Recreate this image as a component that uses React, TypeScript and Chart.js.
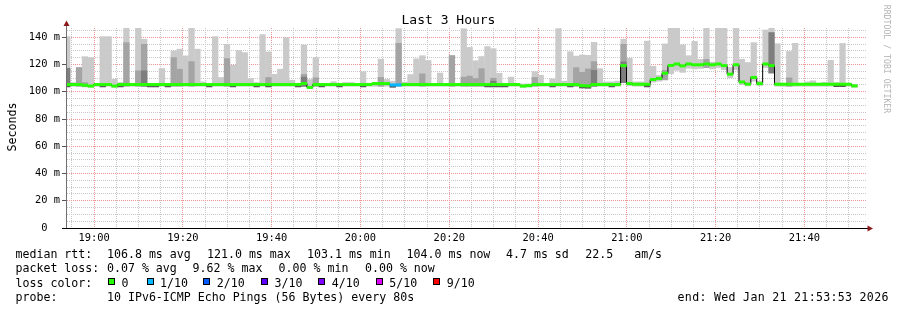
import React, { useEffect, useRef } from "react";
import { Chart, registerables } from "chart.js";

Chart.register(...registerables);

// ---- time axis ----
const RANGE_START = "18:53:53";
const RANGE_END = "21:53:53";
const FIRST_STEP_START = "18:53:16"; // start of first (partially visible) 80 s step
const STEP_SECONDS = 80;
const X_GRID_FIRST = "18:55:00";
const X_GRID_LAST = "21:50:00";
const X_GRID_STEP = 300;
const xTickLabels = ["19:00", "19:20", "19:40", "20:00", "20:20", "20:40", "21:00", "21:20", "21:40"];

// ---- value axis ----
const Y_MAX = 146.8;
const Y_GRID_STEP = 5;
const yTickValues = [0, 20, 40, 60, 80, 100, 120, 140];
const yTickLabels = ["0  ", "20 m", "40 m", "60 m", "80 m", "100 m", "120 m", "140 m"];

const _ = null;

// ---- per-step values (ms), first row = 11 steps, others 10 ----
const maxPing = [
  140.7, 107, 118, 126, 125.3, 106.5, 140.7, 140.7, 109.5, 107, 146.8,
  106.5, 146.8, 138.8, 106, 106, 117.3, 106.5, 130.2, 131.5, 126.6,
  146.8, 131.5, 107.5, 106, 140.7, 110.7, 135.1, 119.7, 130.5, 129,
  110, 107, 142.2, 129.5, 113.1, 116.8, 140, 108.7, 106, 134.5,
  109.2, 125.4, 106, 106, 107.6, 106, 107, 107, 106, 115,
  106.5, 107.2, 124.1, 109.3, 108, 146.6, 107.3, 112.9, 124.4, 126.7,
  123.2, 106, 114, 106, 126.8, 106, 146.5, 132.8, 123, 126.1,
  133.4, 131.8, 113.8, 106, 111, 106, 106, 106, 115, 112.3,
  105.8, 109.7, 146.6, 108, 129.6, 126.4, 127.2, 127, 136.5, 117.2,
  107.5, 107.5, 108, 138.8, 124.8, 107.5, 107.5, 137.4, 118.9, 112.2,
  135.4, 146.8, 146.8, 134.7, 126.7, 137.2, 124, 146.8, 122, 146.8,
  146.8, 118, 146.8, 124.1, 121.7, 136.3, 108, 145.6, 146.8, 135.5,
  106.5, 129.8, 135.8, 106, 107.5, 108.3, 106.5, 107.2, 123.3, 107,
  135.7, 106.5, 105.8,
];

const secondPing = [
  _, _, 118, 107, _, _, _, _, _, _, 136.3,
  _, 115.6, 135.1, _, _, _, _, 125.3, 116.8, _,
  122.4, _, _, _, _, _, 124.6, _, _, _,
  _, _, _, 110.7, _, _, _, _, _, 113,
  _, 110.5, _, _, _, _, _, _, _, _,
  _, _, 110.8, _, _, 135.8, _, _, _, 113.4,
  _, _, _, _, 126.8, _, 111, 111.7, 110, 117.2,
  _, 110.2, _, _, _, _, _, _, 110.7, _,
  _, _, _, _, _, 117.9, 114.5, 117, 122.4, _,
  _, _, _, 135.1, _, _, _, _, _, _,
  116, _, _, _, _, _, _, 124, _, _,
  _, _, _, _, _, _, _, _, _, _,
  _, 110.5, _, _, _, _, _, _, _, _,
  _, _, _,
];

const thirdPing = [
  117.5, _, _, _, _, _, _, _, _, _, _,
  _, _, 115.6, _, _, _, _, _, _, _,
  _, _, _, _, _, _, _, _, _, _,
  _, _, _, _, _, _, _, _, _, 111,
  _, _, _, _, _, _, _, _, _, _,
  _, _, _, _, _, _, _, _, _, _,
  _, _, _, _, _, _, _, _, _, _,
  _, 108, _, _, _, _, _, _, _, _,
  _, _, _, _, _, _, _, _, 116, _,
  _, _, _, 122.2, _, _, _, _, _, _,
  _, _, _, _, _, _, _, _, _, _,
  _, _, _, _, _, _, _, _, 143.7, _,
  _, _, _, _, _, _, _, _, _, _,
  _, _, _,
];

const coreLow = [
  103.3, _, _, _, _, _, 103.3, _, _, 103.3, _,
  _, _, _, 103.3, 103.3, _, 103.3, _, _, _,
  _, _, _, 103.3, _, _, _, 103.3, _, _,
  _, 103.3, _, 103.3, _, _, _, _, 103.3, _,
  _, _, 103.3, _, _, 103.3, _, _, _, 103.3,
  _, _, _, _, 103, _, _, _, _, _,
  _, _, _, _, _, _, _, _, _, _,
  103.3, 103.3, 103.3, 103.3, _, _, _, _, _, _,
  _, 103.3, _, _, 103.3, _, 102.5, 102.3, _, _,
  _, 103.3, _, _, _, _, _, 103.3, _, _,
  _, _, _, _, _, _, _, _, _, _,
  _, _, _, _, _, _, _, _, _, _,
  _, _, _, _, _, _, _, _, _, 103.5,
  103.5, _, _,
];

const minPing = [
  103.8, 103.8, 103.8, 103.4, 103, 103.8, 103.8, 103.8, 103, 103.8, 103.8,
  103.8, 103.8, 103.8, 103.8, 103.8, 103.8, 103.8, 103.8, 103.8, 103.8,
  103.8, 103.8, 103.8, 103.8, 103.8, 103.8, 103.8, 103.8, 103.8, 103.8,
  103.8, 103.8, 103.8, 103.8, 103.8, 103.8, 103.8, 103.8, 103.8, 103.8,
  102.2, 103.8, 103.8, 103.8, 103.8, 103.8, 103.8, 103.8, 103.8, 103.8,
  103.8, 103.8, 103.8, 103.8, 103.8, 103.8, 103.8, 103.8, 103.8, 103.8,
  103.8, 103.8, 103.8, 103.8, 103.8, 103.8, 103.8, 103.8, 103.8, 103.8,
  103.8, 103.8, 103.8, 103.8, 103.8, 103.8, 103, 103.2, 103.8, 103.8,
  103.8, 103.8, 103.8, 103.8, 103.8, 103.8, 103.2, 103, 103.8, 103.8,
  103.8, 103.8, 103.8, 106.5, 104.2, 103.8, 103.8, 103.8, 106.8, 107.5,
  108.5, 113, 115.5, 114, 117, 116.5, 116.8, 117.5, 116.5, 117.5,
  116, 110, 116, 105, 104, 107.5, 104.3, 117.5, 113.5, 103.8,
  103.8, 103.8, 103.8, 103.8, 103.8, 103.8, 103.8, 103.8, 103.8, 103.8,
  103.8, 103.8, 103,
];

const medianRtt = [
  105.3, 105.3, 105.3, 104.8, 104.2, 105.3, 105.3, 105.3, 104.2, 105.3, 105.3,
  105.3, 105.3, 105.3, 105.3, 105.3, 105.3, 105.3, 105.3, 105.3, 105.3,
  105.3, 105.3, 105.3, 105.3, 105.3, 105.3, 105.3, 105.3, 105.3, 105.3,
  105.3, 105.3, 105.3, 105.3, 105.3, 105.3, 105.3, 105.3, 105.3, 106,
  103.2, 105.3, 105.3, 105.3, 105.3, 105.3, 105.3, 105.3, 105.3, 105.3,
  105.3, 106, 106, 106, 105, 105, 105.3, 105.3, 105.3, 105.3,
  105.3, 105.3, 105.3, 105.3, 105.3, 105.3, 105.3, 105.3, 105.3, 105.3,
  105.3, 105.3, 105.3, 105.3, 105.3, 105.3, 104.2, 104.5, 105.3, 105.3,
  105.3, 105.3, 105.3, 105.3, 105.3, 105.3, 104.5, 104.3, 105.3, 105.3,
  105.3, 105.3, 105.3, 119.2, 106, 105.5, 105.5, 105.5, 109, 109.8,
  113.6, 119.3, 120.4, 119, 120.4, 119.8, 119.8, 120.4, 119.8, 120.4,
  119.2, 112.9, 119.8, 107.2, 105.6, 110.5, 106, 120.4, 119.2, 105.5,
  105.5, 105.5, 105.5, 105.5, 105.5, 105.5, 105.5, 105.5, 105.5, 105.5,
  105.5, 105.5, 104.3,
];

const lossTenths = [
  0, 0, 0, 0, 0, 0, 0, 0, 0, 0, 0,
  0, 0, 0, 0, 0, 0, 0, 0, 0, 0,
  0, 0, 0, 0, 0, 0, 0, 0, 0, 0,
  0, 0, 0, 0, 0, 0, 0, 0, 0, 0,
  0, 0, 0, 0, 0, 0, 0, 0, 0, 0,
  0, 0, 0, 0, 1, 1, 0, 0, 0, 0,
  0, 0, 0, 0, 0, 0, 0, 0, 0, 0,
  0, 0, 0, 0, 0, 0, 0, 0, 0, 0,
  0, 0, 0, 0, 0, 0, 0, 0, 0, 0,
  0, 0, 0, 0, 0, 0, 0, 0, 0, 0,
  0, 0, 0, 0, 0, 0, 0, 0, 0, 0,
  0, 0, 0, 0, 0, 0, 0, 0, 0, 0,
  0, 0, 0, 0, 0, 0, 0, 0, 0, 0,
  0, 0, 0,
];

const lossColorByTenths: Record<number, string> = {
  0: "#26ff00", 1: "#00b8ff", 2: "#0059ff", 3: "#5e00ff", 4: "#7e00ff", 5: "#dd00ff", 9: "#ff0000",
};
const lossLegend = [
  { label: "0", tenths: 0 }, { label: "1/10", tenths: 1 }, { label: "2/10", tenths: 2 },
  { label: "3/10", tenths: 3 }, { label: "4/10", tenths: 4 }, { label: "5/10", tenths: 5 },
  { label: "9/10", tenths: 9 },
];

const MONO = "'DejaVu Sans Mono', monospace";

const toSec = (t: string) => {
  const [h, m, s] = t.split(":").map(Number);
  return h * 3600 + m * 60 + (s || 0);
};
const hhmm = (v: number) => {
  const h = Math.floor(v / 3600);
  const m = Math.floor((v % 3600) / 60);
  return `${String(h).padStart(2, "0")}:${String(m).padStart(2, "0")}`;
};

const rrdAxes = {
  id: "rrdAxes",
  afterDatasetsDraw(chart: any) {
    const { ctx, chartArea: a } = chart;
    ctx.save();
    ctx.lineWidth = 1;
    ctx.strokeStyle = "#707070";
    ctx.beginPath();
    ctx.moveTo(a.left - 0.5, a.bottom);
    ctx.lineTo(a.left - 0.5, a.top - 3);
    ctx.stroke();
    ctx.strokeStyle = "#000";
    ctx.beginPath();
    ctx.moveTo(a.left - 5, a.bottom + 0.5);
    ctx.lineTo(a.right + 2, a.bottom + 0.5);
    ctx.stroke();
    ctx.fillStyle = "#8b1a1a";
    ctx.beginPath();
    ctx.moveTo(a.left - 0.5, a.top - 7.5);
    ctx.lineTo(a.left - 3.5, a.top - 2);
    ctx.lineTo(a.left + 2.5, a.top - 2);
    ctx.closePath();
    ctx.fill();
    ctx.beginPath();
    ctx.moveTo(a.right + 7, a.bottom + 0.5);
    ctx.lineTo(a.right + 1.5, a.bottom - 2.5);
    ctx.lineTo(a.right + 1.5, a.bottom + 3.5);
    ctx.closePath();
    ctx.fill();
    ctx.restore();
  },
};

type Txt = { x: number; text: string; ls?: number };
const legendRows: { top: number; items: Txt[] }[] = [
  {
    top: 247,
    items: [
      { x: 15.5, text: "median rtt:" }, { x: 107, text: "106.8 ms avg" }, { x: 207, text: "121.0 ms max" },
      { x: 307, text: "103.1 ms min" }, { x: 406.6, text: "104.0 ms now" }, { x: 506, text: "4.7 ms sd" },
      { x: 585.3, text: "22.5   am/s" },
    ],
  },
  {
    top: 261.3,
    items: [
      { x: 15.5, text: "packet loss:" }, { x: 107, text: "0.07 % avg" }, { x: 192.6, text: "9.62 % max" },
      { x: 278.6, text: "0.00 % min" }, { x: 365, text: "0.00 % now" },
    ],
  },
  { top: 275.7, items: [{ x: 15.5, text: "loss color:" }] },
  {
    top: 290,
    items: [
      { x: 15.5, text: "probe:" }, { x: 107, text: "10 IPv6-ICMP Echo Pings (56 Bytes) every 80s" },
      { x: 677.6, text: "end: Wed Jan 21 21:53:53 2026", ls: 0.3 },
    ],
  },
];
const lossBoxX = [108, 146.5, 203.3, 261, 318.3, 375.7, 433.3];

export default function App() {
  const ref = useRef<HTMLCanvasElement | null>(null);

  useEffect(() => {
    if (!ref.current) return;
    const s0 = toSec(FIRST_STEP_START);
    const starts = medianRtt.map((_v, i) => s0 + i * STEP_SECONDS);
    const centers = starts.map((s) => s + STEP_SECONDS / 2);
    const band = (lo: (number | null)[], hi: (number | null)[]) =>
      centers
        .map((x, i) => (hi[i] == null || lo[i] == null ? null : { x, y: [lo[i] as number, hi[i] as number] }))
        .filter((p) => p !== null);

    const xGrid: number[] = [];
    for (let v = toSec(X_GRID_FIRST); v <= toSec(X_GRID_LAST); v += X_GRID_STEP) xGrid.push(v);
    const xLabelSet = new Set(xTickLabels.map((l) => toSec(l)));
    const yGrid: number[] = [];
    for (let v = 0; v < Y_MAX; v += Y_GRID_STEP) yGrid.push(v);

    const barCommon = { borderWidth: 0, barPercentage: 1.06, categoryPercentage: 1, grouped: false };
    const last = starts.length - 1;

    const chart = new Chart(ref.current, {
      type: "bar",
      data: {
        datasets: [
          {
            type: "bar",
            label: "median",
            data: centers.map((x, i) => ({ x, y: [medianRtt[i] - 1.1, medianRtt[i] + 1.1] })),
            backgroundColor: medianRtt.map((_v, i) => lossColorByTenths[lossTenths[i]]),
            order: 0,
            ...barCommon,
          } as any,
          {
            type: "line",
            label: "median line",
            data: [...starts.map((x, i) => ({ x, y: medianRtt[i] })), { x: starts[last] + STEP_SECONDS, y: medianRtt[last] }],
            borderColor: "#000",
            borderWidth: 1,
            pointRadius: 0,
            stepped: true,
            fill: false,
            order: 1,
          } as any,
          { type: "bar", label: "core", data: band(coreLow, medianRtt), backgroundColor: "#585858", order: 2, ...barCommon } as any,
          { type: "bar", label: "p3", data: band(minPing, thirdPing), backgroundColor: "#7e7e7e", order: 3, ...barCommon } as any,
          { type: "bar", label: "p2", data: band(minPing, secondPing), backgroundColor: "#a4a4a4", order: 4, ...barCommon } as any,
          { type: "bar", label: "p1", data: band(minPing, maxPing), backgroundColor: "#cacaca", order: 5, ...barCommon } as any,
        ],
      },
      options: {
        animation: false,
        responsive: false,
        devicePixelRatio: 1,
        events: [],
        layout: { padding: { top: 28, right: 31, bottom: 0, left: 0 } },
        plugins: { legend: { display: false }, title: { display: false }, tooltip: { enabled: false } },
        scales: {
          x: {
            type: "linear",
            min: toSec(RANGE_START),
            max: toSec(RANGE_END),
            offset: false,
            afterBuildTicks: (s: any) => {
              s.ticks = xGrid.map((v) => ({ value: v }));
            },
            afterFit: (s: any) => {
              s.height = 82;
            },
            grid: {
              offset: false,
              drawTicks: false,
              lineWidth: 1,
              color: (c: any) => (xLabelSet.has(c.tick?.value) ? "rgb(236,150,150)" : "rgb(200,200,200)"),
            },
            border: { display: false, dash: [1, 1] },
            ticks: {
              autoSkip: false,
              maxRotation: 0,
              padding: 4,
              color: "#000",
              font: { family: MONO, size: 10.4 },
              callback: (v: any) => (xLabelSet.has(Number(v)) ? hhmm(Number(v)) : ""),
            },
          },
          y: {
            min: 0,
            max: Y_MAX,
            afterBuildTicks: (s: any) => {
              s.ticks = yGrid.map((v) => ({ value: v }));
            },
            afterFit: (s: any) => {
              s.width = 67;
            },
            grid: {
              drawTicks: true,
              tickLength: 5,
              lineWidth: 1,
              color: (c: any) => (yTickValues.includes(c.tick?.value) ? "rgb(236,150,150)" : "rgb(200,200,200)"),
              tickColor: (c: any) => (yTickValues.includes(c.tick?.value) ? "#555" : "rgba(0,0,0,0)"),
            },
            border: { display: false, dash: [1, 1] },
            ticks: {
              autoSkip: false,
              padding: 2,
              color: "#000",
              font: { family: MONO, size: 10.4 },
              callback: (v: any) => {
                const i = yTickValues.indexOf(Number(v));
                return i >= 0 ? yTickLabels[i] : "";
              },
            },
          },
        },
      } as any,
      plugins: [rrdAxes],
    });
    return () => chart.destroy();
  }, []);

  const abs: React.CSSProperties = { position: "absolute", whiteSpace: "pre", fontFamily: MONO, color: "#000" };

  return (
    <div style={{ position: "fixed", left: 0, top: 0, width: 897, height: 310, background: "#fff", overflow: "hidden" }}>
      <canvas ref={ref} width={897} height={310} style={{ position: "absolute", left: 0, top: 0, width: 897, height: 310 }} />
      <div style={{ ...abs, left: 0, top: 11.5, width: 897, textAlign: "center", fontSize: 13, lineHeight: "16px" }}>Last 3 Hours</div>
      <div
        style={{
          ...abs, left: 11.7 - 40, top: 126.5 - 7, width: 80, height: 14, textAlign: "center",
          fontSize: 11.6, lineHeight: "14px", transform: "rotate(-90deg)",
        }}
      >
        Seconds
      </div>
      <div
        style={{
          ...abs, left: 887 - 60, top: 59 - 5, width: 120, height: 10, textAlign: "center",
          fontSize: 8.2, lineHeight: "10px", color: "#b4b4b4", transform: "rotate(90deg)",
        }}
      >
        RRDTOOL / TOBI OETIKER
      </div>
      {legendRows.map((row, r) =>
        row.items.map((it, j) => (
          <div key={`${r}-${j}`} style={{ ...abs, left: it.x, top: row.top, fontSize: 11.6, lineHeight: "14px", letterSpacing: it.ls ? `${it.ls}px` : undefined }}>
            {it.text}
          </div>
        ))
      )}
      {lossLegend.map((l, i) => (
        <React.Fragment key={l.label}>
          <div
            style={{
              position: "absolute", left: lossBoxX[i], top: 278, width: 7, height: 7, boxSizing: "border-box",
              border: "1px solid #000", background: lossColorByTenths[l.tenths],
            }}
          />
          <div style={{ ...abs, left: lossBoxX[i] + 13.5, top: 275.7, fontSize: 11.6, lineHeight: "14px" }}>{l.label}</div>
        </React.Fragment>
      ))}
    </div>
  );
}
